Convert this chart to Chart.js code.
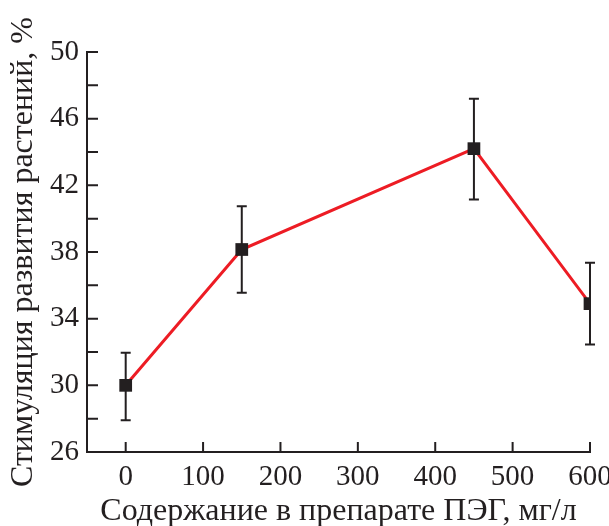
<!DOCTYPE html>
<html>
<head>
<meta charset="utf-8">
<script src="https://cdn.jsdelivr.net/npm/chart.js@4"></script>
<style>
  html, body { margin: 0; padding: 0; background: #fff; }
  #wrap { width: 609px; height: 526px; }
</style>
</head>
<body>
<div id="wrap"><canvas id="myChart" width="609" height="526"></canvas></div>
<script>
// data
var doses = [0, 150, 450, 600];
var stimulation = [30.0, 38.15, 44.2, 34.9];
var errLow = [27.9, 35.55, 41.15, 32.45];
var errHigh = [31.95, 40.75, 47.2, 37.35];
var xTicks = [0, 100, 200, 300, 400, 500, 600];
var yTicks = [26, 28, 30, 32, 34, 36, 38, 40, 42, 44, 46, 48, 50];
var yLabelled = [26, 30, 34, 38, 42, 46, 50];

var ink = '#231f20';

// error bars + inward ticks, drawn through the scales
var extras = {
  id: 'extras',
  beforeDatasetsDraw: function(chart) {
    var ctx = chart.ctx, xs = chart.scales.x, ys = chart.scales.y;
    ctx.save();
    ctx.strokeStyle = ink;
    ctx.lineWidth = 2;
    for (var i = 0; i < doses.length; i++) {
      var px = xs.getPixelForValue(doses[i]);
      var lo = ys.getPixelForValue(errLow[i]);
      var hi = ys.getPixelForValue(errHigh[i]);
      ctx.beginPath();
      ctx.moveTo(px, lo); ctx.lineTo(px, hi);
      ctx.moveTo(px - 5, lo); ctx.lineTo(px + 5, lo);
      ctx.moveTo(px - 5, hi); ctx.lineTo(px + 5, hi);
      ctx.stroke();
    }
    ctx.restore();
  },
  afterDraw: function(chart) {
    var ctx = chart.ctx, xs = chart.scales.x, ys = chart.scales.y;
    ctx.save();
    ctx.strokeStyle = ink;
    ctx.lineWidth = 2;
    ctx.beginPath();
    yTicks.forEach(function(v) {
      var py = ys.getPixelForValue(v);
      ctx.moveTo(xs.left, py); ctx.lineTo(xs.left + 11, py);
    });
    xTicks.forEach(function(v) {
      var px = xs.getPixelForValue(v);
      ctx.moveTo(px, ys.bottom); ctx.lineTo(px, ys.bottom - 10);
    });
    ctx.stroke();
    ctx.restore();
  }
};

var ctx = document.getElementById('myChart').getContext('2d');
var myChart = new Chart(ctx, {
  type: 'scatter',
  data: {
    datasets: [{
      data: doses.map(function(d, i) { return {x: d, y: stimulation[i]}; }),
      showLine: true,
      borderColor: '#ed1c24',
      borderWidth: 3,
      pointStyle: 'rect',
      pointRadius: 9,
      pointBorderWidth: 0,
      pointBackgroundColor: ink,
      pointBorderColor: ink
    }]
  },
  options: {
    responsive: false,
    animation: false,
    layout: { padding: { top: 52, right: 19, bottom: 0, left: 0 } },
    plugins: {
      legend: { display: false },
      tooltip: { enabled: false }
    },
    scales: {
      x: {
        type: 'linear',
        min: -50,
        max: 600,
        afterFit: function(s) { s.height = 74; s.paddingLeft = 0; s.paddingRight = 0; },
        afterBuildTicks: function(s) { s.ticks = xTicks.map(function(v) { return {value: v}; }); },
        grid: { display: false, drawTicks: false },
        border: { display: true, color: ink, width: 2 },
        ticks: {
          padding: 8,
          color: ink,
          font: { family: 'Liberation Serif', size: 29 }
        },
        title: {
          display: true,
          text: 'Содержание в препарате ПЭГ, мг/л',
          color: ink,
          font: { family: 'Liberation Serif', size: 32, lineHeight: 0.92 },
          padding: { top: 0, bottom: 0 }
        }
      },
      y: {
        min: 26,
        max: 50,
        afterFit: function(s) { s.width = 87; s.paddingTop = 0; s.paddingBottom = 0; },
        afterBuildTicks: function(s) { s.ticks = yTicks.map(function(v) { return {value: v}; }); },
        grid: { display: false, drawTicks: false },
        border: { display: true, color: ink, width: 2 },
        ticks: {
          padding: 8,
          color: ink,
          font: { family: 'Liberation Serif', size: 29 },
          callback: function(v) { return yLabelled.indexOf(v) >= 0 ? v : ''; }
        },
        title: {
          display: true,
          text: 'Стимуляция развития растений, %',
          color: ink,
          font: { family: 'Liberation Serif', size: 32 },
          padding: { top: 4, bottom: 0 }
        }
      }
    }
  },
  plugins: [extras]
});
</script>
</body>
</html>
